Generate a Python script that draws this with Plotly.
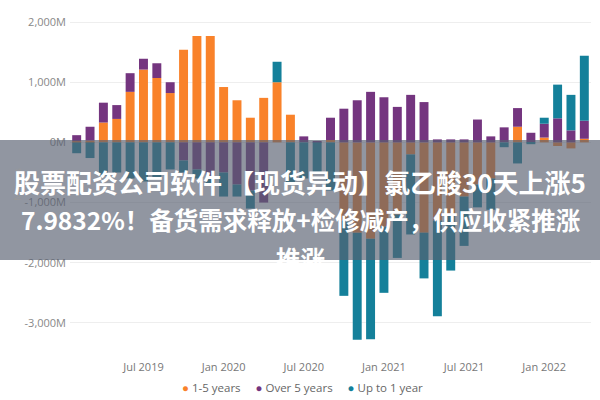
import plotly.graph_objects as go

months = ["2019-02","2019-03","2019-04","2019-05","2019-06","2019-07","2019-08","2019-09","2019-10","2019-11","2019-12",
          "2020-01","2020-02","2020-03","2020-04","2020-05","2020-06","2020-07","2020-08","2020-09","2020-10","2020-11","2020-12",
          "2021-01","2021-02","2021-03","2021-04","2021-05","2021-06","2021-07","2021-08","2021-09","2021-10","2021-11","2021-12",
          "2022-01","2022-02","2022-03","2022-04"]

one_to_five = [20,30,330,390,840,1210,1070,820,1540,1770,1770,920,700,410,740,1000,460,0,0,40,
               -1300,-1500,-1600,-1400,-1200,-200,-1500,-1300,-1200,-900,-700,-600,0,260,0,80,-60,-100,60]
over_five = [100,230,330,230,310,180,245,180,-300,-450,-600,-500,-700,-800,-1000,0,0,100,10,370,
             560,700,840,750,590,790,670,50,50,50,380,100,250,310,160,230,400,200,300]
up_to_one = [-180,-260,-550,-500,-600,-650,-600,-450,-200,-150,-100,-400,-200,-300,0,340,-700,-600,-500,-800,
             -1250,-1780,-1670,-1100,-720,-1330,-760,-1590,-930,-820,-380,-520,-80,-350,-30,100,560,590,1080]

series_names = ["1-5 years", "Over 5 years", "Up to 1 year"]
colors = ["#F9822A", "#74357F", "#14809A"]

tick_months = ["2019-07","2020-01","2020-07","2021-01","2021-07","2022-01"]
tick_text = ["Jul 2019","Jan 2020","Jul 2020","Jan 2021","Jul 2021","Jan 2022"]

y_ticks = [2000, 1000, 0, -1000, -2000, -3000]
y_text = ["2,000M", "1,000M", "0M", "-1,000M", "-2,000M", "-3,000M"]

headline = ["股票配资公司软件 【现货异动】氯乙酸30天上涨5",
            "7.9832%！备货需求释放+检修减产，供应收紧推涨",
            "推涨"]

fig = go.Figure()
for name, vals, c in zip(series_names, [one_to_five, over_five, up_to_one], colors):
    fig.add_trace(go.Bar(x=months, y=vals, name=name, marker_color=c,
                         marker_line_width=0, showlegend=False))

W, H = 600, 400
L, R, T, B = 70, 9, 7, 50
pw, ph = W - L - R, H - T - B
def px(x):
    return (x - L) / pw
def py(y):
    return (H - B - y) / ph

fig.update_layout(
    width=W, height=H,
    margin=dict(l=L, r=R, t=T, b=B, autoexpand=False),
    paper_bgcolor="white", plot_bgcolor="white",
    barmode="relative", bargap=0.33, showlegend=False,
    font=dict(family="Open Sans, sans-serif", color="#777777", size=11),
    xaxis=dict(type="category", tickvals=tick_months, ticktext=tick_text, showgrid=False,
               showline=False, ticks="", tickfont=dict(size=11, color="#777777"),
               ticklabelstandoff=9, automargin=False,
               range=[-0.5, len(months) - 0.5]),
    yaxis=dict(range=[-3450, 2250], tickvals=y_ticks, ticktext=y_text, automargin=False,
               showgrid=True, gridcolor="#EEEEEE", zeroline=False, showline=False, ticks="",
               tickfont=dict(size=11, color="#888888"), ticklabelstandoff=3),
)

# y-axis title
fig.add_annotation(xref="paper", yref="paper", x=px(8), y=py(185), text="Millions", textangle=-90,
                   showarrow=False, font=dict(size=9, color="#999999"))

# legend drawn as text
legend_txt = "     ".join(f"<span style='color:{c}'>●</span> {n}" for n, c in zip(series_names, colors))
fig.add_annotation(xref="paper", yref="paper", x=px(302), y=py(387), text=legend_txt,
                   showarrow=False, xanchor="center", yanchor="middle",
                   font=dict(size=11.5, color="#666666"))

# semi-transparent banner with headline
fig.add_shape(type="rect", xref="paper", yref="paper", x0=px(-2), x1=px(602), y0=py(260), y1=py(140),
              fillcolor="rgba(88,96,112,0.66)", line_width=0, layer="above")
for txt, yy, fs in zip(headline, [181, 219, 258], [26, 24.5, 24.5]):
    fig.add_annotation(xref="paper", yref="paper", x=px(300), y=py(yy), text="<b>" + txt + "</b>",
                       showarrow=False, xanchor="center", yanchor="middle",
                       font=dict(family="Noto Sans CJK SC", size=fs, color="white"))

fig.write_html("out.html", config={"displayModeBar": False},
               post_script="document.body.style.margin='0';document.body.style.overflow='hidden';")
